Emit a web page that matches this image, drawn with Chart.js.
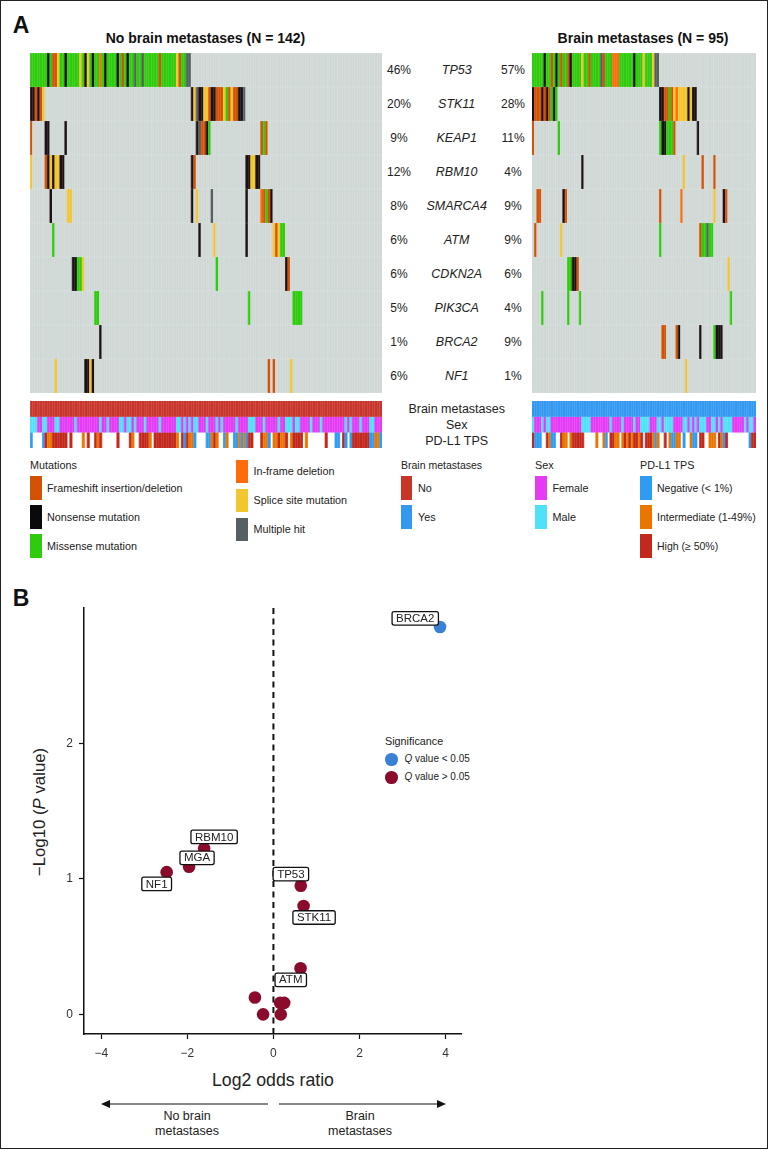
<!DOCTYPE html>
<html><head><meta charset="utf-8">
<script src="https://cdn.jsdelivr.net/npm/chart.js@4"></script>
<style>
html,body{margin:0;padding:0;background:#fff}
body{width:768px;height:1150px;position:relative;overflow:hidden;font-family:"Liberation Sans",Arial,sans-serif;color:#222}
#frame{position:absolute;left:0;top:0;width:766px;height:1147px;border:1px solid #222;pointer-events:none}
canvas{position:absolute;display:block}
.t{position:absolute;white-space:nowrap;line-height:1}
.c{transform:translate(-50%,-50%)}
.l{transform:translateY(-50%)}
.sw{position:absolute}
.dot{position:absolute;border-radius:50%}
</style></head><body>
<div id="frame"></div>
<div id="root"></div>
<canvas id="oncoNo" width="352" height="340" style="left:30px;top:53px;width:352px;height:340px"></canvas>
<canvas id="oncoBrain" width="224" height="340" style="left:532px;top:53px;width:224px;height:340px"></canvas>
<canvas id="annoNo" width="352" height="47" style="left:30px;top:401px;width:352px;height:47px"></canvas>
<canvas id="annoBrain" width="224" height="47" style="left:532px;top:401px;width:224px;height:47px"></canvas>
<canvas id="volcano" width="418" height="458" style="left:44px;top:600px;width:418px;height:458px"></canvas>
<svg style="position:absolute;left:95px;top:1095px" width="360" height="18" viewBox="0 0 360 18">
<g stroke="#111" stroke-width="1.2" fill="#111">
<line x1="10" y1="9" x2="173" y2="9"/><path d="M6 9 L15 5 L15 13 Z" stroke="none"/>
<line x1="184" y1="9" x2="347" y2="9"/><path d="M351 9 L342 5 L342 13 Z" stroke="none"/>
</g></svg>
<script>
// ---------- labels ----------
const GENES=["TP53","STK11","KEAP1","RBM10","SMARCA4","ATM","CDKN2A","PIK3CA","BRCA2","NF1"];
const PCT_NO=["46%","20%","9%","12%","8%","6%","6%","5%","1%","6%"];
const PCT_BRAIN=["57%","28%","11%","4%","9%","9%","6%","4%","9%","1%"];
const N_NO=142, N_BRAIN=95;
// ---------- mutations: [first sample, codes]  M missense N nonsense F frameshift I in-frame S splice X multiple ----------
const TP53_NO=[[0,"MMMMMMM N M FF S MM N MMMMM S M N S M N MM I M N MMMM N M F M N MM X MM X MMMMMM F MMMMMM S F MM XX"]];
const STK11_NO=[[0,"NN F N F S"],[65,"N S X NN SS F NN FFF S M F S FF NN X"]];
const KEAP1_NO=[[0,"F"],[6,"NN"],[14,"N"],[67,"N X FF N M"],[93,"F M F"]];
const RBM10_NO=[[0,"S"],[6,"F N S N SS NN"],[65,"N F"],[87,"NN SS NN"]];
const SMARCA4_NO=[[8,"N"],[15,"SS"],[65,"N"],[67,"S"],[73,"X"],[87,"N"],[93,"I F M F N"]];
const ATM_NO=[[9,"M"],[68,"N"],[74,"S"],[87,"N"],[98,"S F S MM"]];
const CDKN2A_NO=[[17,"NN MM S"],[75,"M"],[103,"N F"]];
const PIK3CA_NO=[[26,"MM"],[88,"M"],[106,"MMMM"]];
const BRCA2_NO=[[28,"N"]];
const NF1_NO=[[10,"S"],[22,"NN S N"],[96,"F"],[98,"F"],[105,"S"]];
const TP53_BRAIN=[[0,"MMMMM N MM F M N M F MM F N MMMM S MM F MMMM X F MMM III MMMMMM N MMM S MMM S XX"]];
const STK11_BRAIN=[[0,"N FFF N F N F M N M"],[54,"NN FF M F S I S SSS N S NN"]];
const KEAP1_BRAIN=[[0,"F"],[11,"M"],[54,"M NN MMM F"],[70,"N"]];
const RBM10_BRAIN=[[21,"N"],[64,"S"],[72,"F"],[77,"F"]];
const SMARCA4_BRAIN=[[2,"FF"],[13,"N F"],[54,"F"],[63,"I"],[77,"S"],[81,"N F"]];
const ATM_BRAIN=[[1,"F"],[12,"S"],[54,"M"],[71,"F MM X MM"]];
const CDKN2A_BRAIN=[[15,"MM NN F"],[83,"S"]];
const PIK3CA_BRAIN=[[4,"M"],[15,"M"],[20,"M"],[84,"M"]];
const BRCA2_BRAIN=[[55,"FF"],[61,"F N"],[71,"N"],[77,"M NNN"]];
const NF1_BRAIN=[[65,"S"]];
const MUT_NO=[TP53_NO,STK11_NO,KEAP1_NO,RBM10_NO,SMARCA4_NO,ATM_NO,CDKN2A_NO,PIK3CA_NO,BRCA2_NO,NF1_NO];
const MUT_BRAIN=[TP53_BRAIN,STK11_BRAIN,KEAP1_BRAIN,RBM10_BRAIN,SMARCA4_BRAIN,ATM_BRAIN,CDKN2A_BRAIN,PIK3CA_BRAIN,BRCA2_BRAIN,NF1_BRAIN];
// ---------- annotation tracks ----------
const MALE_NO=[0,1,2,5,6,10,11,18,28,31,36,37,39,40,42,46,52,59,60,62,64,66,67,71,75,77,83,88,89,90,94,100,103,104,105,107,108,113,117,127,129,133,137,138];
const MALE_BRAIN=[0,4,6,7,21,22,23,24,33,38,43,46,47,48,49,53,54,56,57,58,59,64,65,67,69,71,72,73,76,77,79,81,82,83,84,90,92,93];
// PD-L1: N negative, I intermediate, H high
const PDL1_NO=[[0,"N"],[5,"N H II HHHHHH"],[16,"H"],[21,"I"],[23,"H"],[26,"H I H"],[35,"H"],[40,"H I"],[44,"HHHH I"],[50,"HHHHHHHHH I"],[61,"H N H II N"],[71,"NN I H I"],[78,"N I"],[82,"NN I N I N HH"],[93,"H II N"],[98,"II"],[100,"H II H"],[105,"I HHHH"],[111,"I"],[119,"H"],[123,"NN"],[126,"H N"],[129,"N HHHHHHH NN II N"]];
const PDL1_BRAIN=[[0,"H NNN"],[6,"H I NN"],[12,"H II"],[16,"I HHHHH"],[27,"I"],[30,"I N"],[33,"HH II"],[38,"I H I H I HH I H"],[48,"HHH I N I"],[56,"H"],[58,"I NN II"],[64,"N"],[67,"I NN"],[71,"HH"],[75,"III"],[79,"H I N H"],[92,"N HH"]];
// ---------- volcano ----------
const VOLCANO_NAMES=["BRCA2","RBM10","MGA","NF1","TP53","STK11","ATM"];
const SIG_X=[3.87], SIG_Y=[2.86];
const NS_X=[-1.61,-1.96,-2.48,0.635,0.70,0.63,0.57,-0.43,-0.24,0.17,0.155,0.25];
const NS_Y=[1.224,1.09,1.05,0.95,0.80,0.34,0.25,0.125,0,0,0.085,0.085];
const XTICKS=[-4,-2,0,2,4], YTICKS=[0,1,2];
// ---------- colours ----------
const MUT_COL={M:"#2fcb0d",N:"#1c1116",F:"#d35306",I:"#ff6a0a",S:"#f3c52e",X:"#566062"};
const PD_COL={N:"#2f9bf2",I:"#ea7600",H:"#c3281d"};
const GREY="#d0d8d6",RED="#c8352b",BLUE="#3399f0",PINK="#e63bf5",CYAN="#4fe1f8";

function decode(sparse,n,map,empty){
  const out=new Array(n).fill(empty);
  sparse.forEach(([s,str])=>{[...str.replace(/ /g,"")].forEach((c,i)=>{out[s+i]=map[c]})});
  return out;
}
function track(id,n,rows){
  const labels=Array.from({length:n},(_,i)=>String(i));
  new Chart(document.getElementById(id),{type:"bar",
    data:{labels,datasets:rows.map((cols,r)=>({
      label:"row"+r,data:cols.map(()=>[r+0.012,r+0.988]),backgroundColor:cols,borderWidth:0,
      barPercentage:1,categoryPercentage:1,grouped:false}))},
    options:{responsive:false,animation:false,devicePixelRatio:1,layout:{padding:0,autoPadding:false},
      plugins:{legend:{display:false},tooltip:{enabled:false}},
      scales:{
        x:{display:true,afterFit:s=>{s.height=0},ticks:{display:false,autoSkip:false},border:{display:false},
           grid:{z:1,drawTicks:false,offset:true,color:"rgba(255,255,255,0.1)",lineWidth:1}},
        y:{display:false,min:0,max:rows.length,reverse:true}}}});
}
track("oncoNo",N_NO,MUT_NO.map(m=>decode(m,N_NO,MUT_COL,GREY)));
track("oncoBrain",N_BRAIN,MUT_BRAIN.map(m=>decode(m,N_BRAIN,MUT_COL,GREY)));
const sexCols=(male,n)=>Array.from({length:n},(_,i)=>male.includes(i)?CYAN:PINK);
track("annoNo",N_NO,[new Array(N_NO).fill(RED),sexCols(MALE_NO,N_NO),decode(PDL1_NO,N_NO,PD_COL,"rgba(0,0,0,0)")]);
track("annoBrain",N_BRAIN,[new Array(N_BRAIN).fill(BLUE),sexCols(MALE_BRAIN,N_BRAIN),decode(PDL1_BRAIN,N_BRAIN,PD_COL,"rgba(0,0,0,0)")]);

// volcano labels: drawn anchored to their points
const LABEL_OFFSET={BRCA2:[-24.8,-8.6],RBM10:[10,-11.6],MGA:[8,-8.9],NF1:[-10,11.8],TP53:[-9.9,-11.6],STK11:[10.5,11.5],ATM:[-9.8,11.5]};
const labelPlugin={id:"labels",afterDatasetsDraw(ch){
  const {ctx,scales:{x,y}}=ch;
  const pts=[[SIG_X[0],SIG_Y[0]]].concat(NS_X.slice(0,6).map((v,i)=>[v,NS_Y[i]]));
  ctx.save();ctx.font='11.5px "Liberation Sans"';ctx.textAlign="center";ctx.textBaseline="middle";
  VOLCANO_NAMES.forEach((nm,i)=>{
    const cx=x.getPixelForValue(pts[i][0])+LABEL_OFFSET[nm][0],cy=y.getPixelForValue(pts[i][1])+LABEL_OFFSET[nm][1];
    const w=ctx.measureText(nm).width+8,h=13.5;
    ctx.beginPath();ctx.roundRect(cx-w/2,cy-h/2,w,h,2);ctx.fillStyle="#fff";ctx.fill();
    ctx.lineWidth=1.3;ctx.strokeStyle="#111";ctx.stroke();
    ctx.fillStyle="#222";ctx.fillText(nm,cx,cy+0.5);
  });
  ctx.restore();
}};
new Chart(document.getElementById("volcano"),{type:"scatter",
  data:{datasets:[
    {label:"zero",data:[{x:0,y:-0.145},{x:0,y:3}],showLine:true,borderColor:"#111",borderWidth:2,borderDash:[6,4.5],pointRadius:0,order:3},
    {label:"Q value > 0.05",data:NS_X.map((v,i)=>({x:v,y:NS_Y[i]})),backgroundColor:"#8a0b2b",borderWidth:0,pointRadius:6.3,order:2},
    {label:"Q value < 0.05",data:SIG_X.map((v,i)=>({x:v,y:SIG_Y[i]})),backgroundColor:"#3a80d4",borderWidth:0,pointRadius:6.3,order:1}
  ]},
  options:{responsive:false,animation:false,devicePixelRatio:1,layout:{autoPadding:false,padding:{top:8,right:0,left:0,bottom:0}},
    plugins:{legend:{display:false},tooltip:{enabled:false}},
    scales:{
      x:{type:"linear",min:-4.4,max:4.38,afterBuildTicks:s=>{s.ticks=XTICKS.map(v=>({value:v}))},afterFit:s=>{s.height=24;s.paddingLeft=0;s.paddingRight=0},
        grid:{drawOnChartArea:false,drawTicks:true,tickLength:5,tickColor:"#111",tickWidth:1.2},border:{color:"#111",width:1.5},
        ticks:{maxRotation:0,padding:7,color:"#333",font:{family:"Liberation Sans",size:12},callback:v=>String(v).replace("-","\u2212")}},
      y:{type:"linear",min:-0.145,max:3,afterBuildTicks:s=>{s.ticks=YTICKS.map(v=>({value:v}))},afterFit:s=>{s.width=40;s.paddingTop=0;s.paddingBottom=0},
        grid:{drawOnChartArea:false,drawTicks:true,tickLength:5,tickColor:"#111",tickWidth:1.2},border:{color:"#111",width:1.5},
        ticks:{padding:6,color:"#333",font:{family:"Liberation Sans",size:12}}}
    }},plugins:[labelPlugin]});

// ---------- text and legends ----------
const root=document.getElementById("root");
function T(html,x,y,cls,size,extra){const d=document.createElement("div");d.className="t "+cls;d.innerHTML=html;
  d.style.cssText=`left:${x}px;top:${y}px;font-size:${size}px;${extra||""}`;root.appendChild(d);return d}
function SW(x,y,col){const d=document.createElement("div");d.className="sw";d.style.cssText=`left:${x}px;top:${y}px;width:11.5px;height:23.5px;background:${col}`;root.appendChild(d)}
T("A",21,24.5,"c",23,"font-weight:bold;color:#111");
T("B",21,598,"c",23,"font-weight:bold;color:#111");
T("No brain metastases (N = 142)",205.5,38,"c",14,"font-weight:bold;color:#111");
T("Brain metastases (N = 95)",643,38,"c",14,"font-weight:bold;color:#111");
GENES.forEach((g,i)=>{const y=70+34*i;
  T(PCT_NO[i],399,y,"c",12);T(g,456.7,y,"c",12.5,"font-style:italic");T(PCT_BRAIN[i],513,y,"c",12);});
["Brain metastases","Sex","PD-L1 TPS"].forEach((s,i)=>T(s,456.7,[409,425,440.5][i],"c",12.5));
T("Mutations",30,465,"l",10.8);
[["Frameshift insertion/deletion",MUT_COL.F],["Nonsense mutation","#0a0a0a"],["Missense mutation",MUT_COL.M]].forEach(([s,c],i)=>{
  SW(30,476.3+29*i,c);T(s,47,488+29*i,"l",10.8)});
[["In-frame deletion",MUT_COL.I],["Splice site mutation",MUT_COL.S],["Multiple hit",MUT_COL.X]].forEach(([s,c],i)=>{
  SW(236.3,459.7+29*i,c);T(s,253.5,471+29*i,"l",10.8)});
T("Brain metastases",401,465,"l",10.5);
[["No",RED],["Yes",BLUE]].forEach(([s,c],i)=>{SW(400.7,476.3+29*i,c);T(s,418,488+29*i,"l",10.8)});
T("Sex",535,465,"l",10.8);
[["Female",PINK],["Male",CYAN]].forEach(([s,c],i)=>{SW(535,476.3+29*i,c);T(s,552.5,488+29*i,"l",10.8)});
T("PD-L1 TPS",640,465,"l",10.8);
[["Negative (&lt; 1%)",PD_COL.N],["Intermediate (1-49%)",PD_COL.I],["High (\u2265 50%)",PD_COL.H]].forEach(([s,c],i)=>{SW(640,476.3+29*i,c);T(s,657,488+29*i,"l",10.5)});
T("Log2 odds ratio",273,1081,"c",17.7);
T("\u2212Log10 (<i>P</i> value)",40,812,"c",16.8,"transform:translate(-50%,-50%) rotate(-90deg)");
T("No brain",187,1116,"c",12.5);T("metastases",187,1131,"c",12.5);
T("Brain",360,1116,"c",12.5);T("metastases",360,1131,"c",12.5);
T("Significance",385,741,"l",10.8);
[["#3a80d4","<i>Q</i> value &lt; 0.05"],["#8a0b2b","<i>Q</i> value &gt; 0.05"]].forEach(([c,s],i)=>{
  const d=document.createElement("div");d.className="dot";d.style.cssText=`left:385px;top:${753+18.2*i}px;width:12.6px;height:12.6px;background:${c}`;root.appendChild(d);
  T(s,404.5,759+18.2*i,"l",10)});
</script>
</body></html>
